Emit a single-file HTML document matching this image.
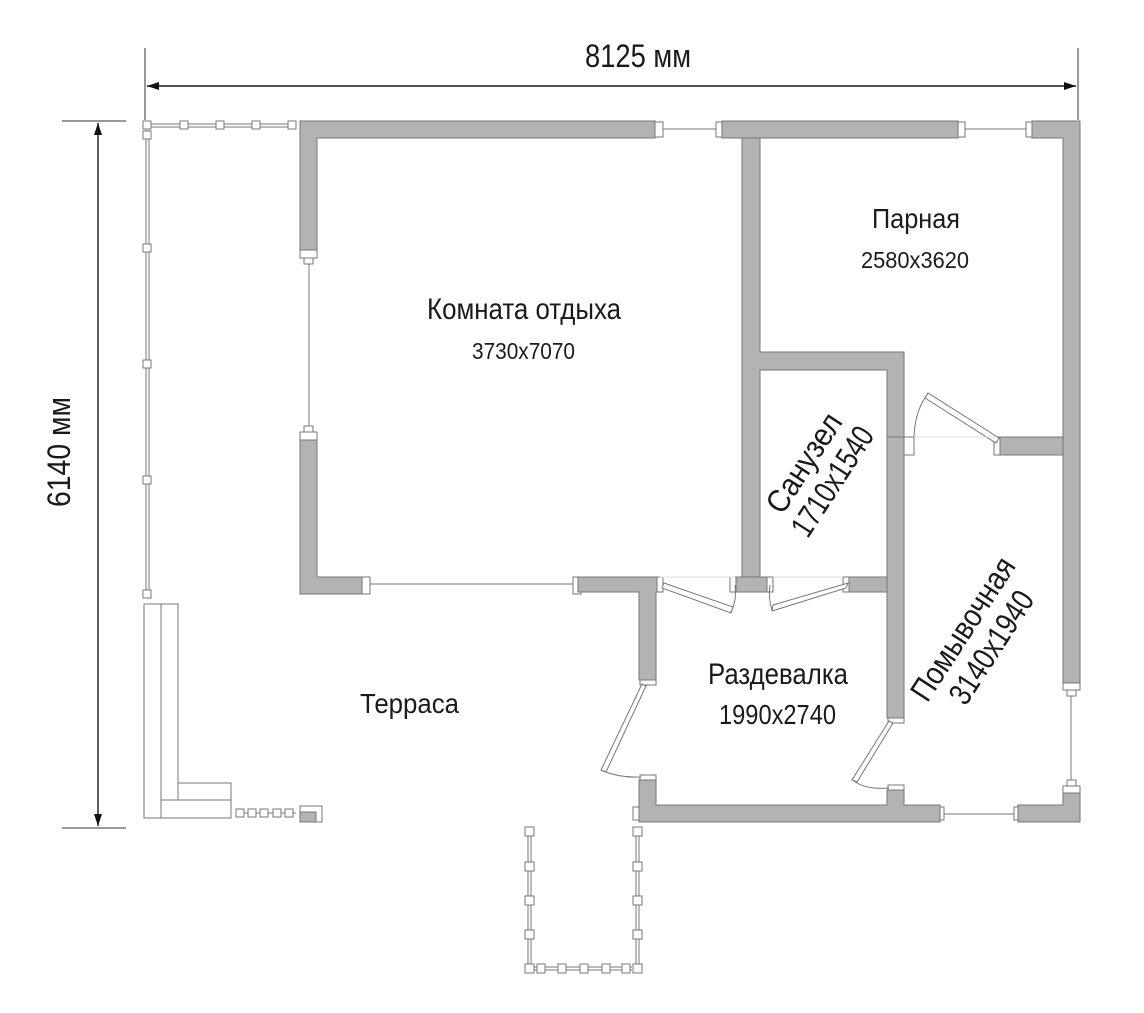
<!DOCTYPE html>
<html><head><meta charset="utf-8"><style>
html,body{margin:0;padding:0;background:#fff}
svg{display:block}
text{font-family:"Liberation Sans Narrow","Liberation Sans",sans-serif;fill:#1a1a1a}
.w{fill:#b3b3b3;stroke:#777;stroke-width:1}
.t{fill:#fff;stroke:#777;stroke-width:1}
.l{stroke:#777;stroke-width:1;fill:none}
</style></head><body>
<svg width="1144" height="1013" viewBox="0 0 1144 1013" xmlns="http://www.w3.org/2000/svg">
<defs>
<marker id="ar" markerWidth="12" markerHeight="8" refX="12" refY="4" orient="auto" markerUnits="userSpaceOnUse"><path d="M0,0 L12,4 L0,8 z" fill="#111"/></marker>
</defs>
<line x1="145" y1="48" x2="145" y2="120" stroke="#333"/>
<line x1="1078" y1="48" x2="1078" y2="120" stroke="#333"/>
<line x1="147" y1="86" x2="1076" y2="86" stroke="#111" stroke-width="1.2" marker-end="url(#ar)"/>
<line x1="1076" y1="86" x2="147" y2="86" stroke="#111" stroke-width="1.2" marker-end="url(#ar)"/>
<text x="585" y="67" font-size="32" textLength="106" lengthAdjust="spacingAndGlyphs">8125  мм</text>
<line x1="62" y1="121" x2="126" y2="121" stroke="#333"/>
<line x1="62" y1="828" x2="126" y2="828" stroke="#333"/>
<line x1="98" y1="123" x2="98" y2="826" stroke="#111" stroke-width="1.2" marker-end="url(#ar)"/>
<line x1="98" y1="826" x2="98" y2="123" stroke="#111" stroke-width="1.2" marker-end="url(#ar)"/>
<text x="-55" y="0" font-size="32" textLength="110" lengthAdjust="spacingAndGlyphs" transform="translate(70,452) rotate(-90)">6140 мм</text>

<g class="l">
<line x1="658" y1="129" x2="720" y2="129"/>
<line x1="962" y1="129" x2="1030" y2="129"/>
<line x1="309" y1="262" x2="309" y2="430"/>
<line x1="365" y1="584" x2="576" y2="584"/>
<line x1="1071" y1="692" x2="1071" y2="786"/>
<line x1="942" y1="814" x2="1016" y2="814"/>
</g>
<g class="t">
<rect x="655" y="122" width="8" height="15"/><rect x="716" y="122" width="8" height="15"/>
<rect x="957" y="122" width="8" height="15"/><rect x="1026" y="122" width="8" height="15"/>
<rect x="300" y="250" width="17" height="8"/><rect x="304" y="258" width="9" height="6"/>
<rect x="300" y="432" width="17" height="8"/><rect x="304" y="426" width="9" height="6"/>
<rect x="362" y="577" width="8" height="17"/><rect x="573" y="577" width="8" height="17"/>
<rect x="1063" y="683" width="17" height="7"/><rect x="1067" y="690" width="9" height="6"/>
<rect x="1063" y="786" width="17" height="7"/><rect x="1067" y="780" width="9" height="6"/>
<rect x="936" y="807" width="8" height="13"/><rect x="1014" y="807" width="8" height="13"/>
</g>

<g class="w">
<path d="M300,121 H655 V138 H317 V250 H300 Z"/>
<rect x="722" y="121" width="236" height="17"/>
<path d="M1032,121 H1080 V683 H1063 V138 H1032 Z"/>
<path d="M742,138 H760 V352 H904 V437 H887 V370 H760 V577 H742 Z"/>
<rect x="887" y="437" width="17" height="281"/>
<rect x="1000" y="437" width="63" height="18"/>
<path d="M300,440 H317 V577 H362 V594 H300 Z"/>
<path d="M578,577 H660 V592 H656 V680 H639 V592 H578 Z"/>
<rect x="735" y="577" width="32" height="15"/>
<rect x="848" y="577" width="39" height="15"/>
<path d="M639,780 H656 V805 H887 V790 H904 V805 H940 V822 H639 Z"/>
<path d="M1063,793 H1080 V822 H1018 V805 H1063 Z"/>
</g>
<g class="t">
<rect x="904" y="437" width="10" height="18"/><rect x="994" y="437" width="6" height="18"/>
<rect x="640" y="680" width="16" height="5"/><rect x="640" y="775" width="16" height="5"/>
<rect x="888" y="718" width="16" height="5"/><rect x="888" y="785" width="16" height="5"/>
<rect x="633" y="807" width="6" height="13"/>
<rect x="657" y="577" width="6" height="15"/><rect x="843" y="577" width="6" height="15"/>
<rect x="730" y="577" width="6" height="15"/><rect x="767" y="577" width="6" height="15"/>
</g>
<g class="l">
<polygon points="662,588 664,583 733,607 731,613" class="t"/>
<path d="M731,612 Q737,600 735,585"/>
<polygon points="846,588 848,583 773,605 772,611" class="t"/>
<path d="M772,610 Q768,598 770,585"/>
<polygon points="996,443 999,438 928,393 925,398" class="t"/>
<path d="M926,396 Q914,414 914,440"/>
<polygon points="642,684 646,686 606,772 601,770" class="t"/>
<path d="M603,771 Q620,778 641,777"/>
<polygon points="889,721 893,723 857,782 852,780" class="t"/>
<path d="M854,781 Q866,790 889,788"/>
</g>
<g stroke="#ddd" stroke-width="1">
<line x1="660" y1="577" x2="735" y2="577"/><line x1="773" y1="577" x2="843" y2="577"/>
<line x1="914" y1="437" x2="994" y2="437"/>
</g>

<g class="l">
<line x1="146" y1="130" x2="146" y2="596"/><line x1="149" y1="130" x2="149" y2="596"/>
<line x1="150" y1="124" x2="290" y2="124"/><line x1="150" y1="127" x2="290" y2="127"/>
<line x1="528" y1="834" x2="528" y2="966"/><line x1="531" y1="834" x2="531" y2="966"/>
<line x1="636" y1="834" x2="636" y2="966"/><line x1="639" y1="834" x2="639" y2="966"/>
<line x1="534" y1="967" x2="632" y2="967"/><line x1="534" y1="970" x2="632" y2="970"/>
<line x1="240" y1="813" x2="296" y2="813"/>
</g>
<g class="t">
<rect x="143" y="121" width="8" height="8"/><rect x="143" y="131" width="8" height="8"/>
<rect x="180" y="121" width="8" height="8"/><rect x="216" y="121" width="8" height="8"/>
<rect x="252" y="121" width="8" height="8"/><rect x="288" y="121" width="8" height="8"/>
<rect x="143" y="244" width="8" height="8"/><rect x="143" y="360" width="8" height="8"/>
<rect x="143" y="476" width="8" height="8"/><rect x="143" y="590" width="8" height="8"/>
<rect x="525" y="827" width="9" height="9"/><rect x="525" y="862" width="9" height="9"/>
<rect x="525" y="896" width="9" height="9"/><rect x="525" y="930" width="9" height="9"/>
<rect x="525" y="964" width="9" height="9"/>
<rect x="633" y="827" width="9" height="9"/><rect x="633" y="862" width="9" height="9"/>
<rect x="633" y="896" width="9" height="9"/><rect x="633" y="930" width="9" height="9"/>
<rect x="633" y="964" width="9" height="9"/>
<rect x="537" y="964" width="8" height="9"/><rect x="558" y="964" width="8" height="9"/>
<rect x="580" y="964" width="8" height="9"/><rect x="602" y="964" width="8" height="9"/>
<rect x="622" y="964" width="8" height="9"/>
<rect x="144" y="604" width="17" height="214"/>
<rect x="161" y="604" width="17" height="196"/>
<rect x="178" y="783" width="53" height="17"/>
<rect x="161" y="800" width="70" height="18"/>
<rect x="236" y="809" width="8" height="8"/><rect x="248" y="809" width="8" height="8"/>
<rect x="260" y="809" width="8" height="8"/><rect x="273" y="809" width="8" height="8"/>
<rect x="285" y="809" width="8" height="8"/>
<rect x="300" y="806" width="22" height="16"/>
</g>
<rect x="300" y="812" width="16" height="10" fill="#b3b3b3" stroke="#777"/>

<text x="427" y="319" font-size="30" textLength="194" lengthAdjust="spacingAndGlyphs">Комната отдыха</text>
<text x="472" y="359" font-size="23" textLength="103" lengthAdjust="spacingAndGlyphs">3730x7070</text>
<text x="872" y="228" font-size="28" textLength="88" lengthAdjust="spacingAndGlyphs">Парная</text>
<text x="861" y="268" font-size="23" textLength="108" lengthAdjust="spacingAndGlyphs">2580x3620</text>
<text x="360" y="713" font-size="28" textLength="99" lengthAdjust="spacingAndGlyphs">Терраса</text>
<text x="708" y="684" font-size="30" textLength="140" lengthAdjust="spacingAndGlyphs">Раздевалка</text>
<text x="719" y="724" font-size="28" textLength="117" lengthAdjust="spacingAndGlyphs">1990x2740</text>
<g transform="translate(818,472) rotate(-57)">
<text x="-56" y="-6" font-size="32" textLength="112" lengthAdjust="spacingAndGlyphs">Санузел</text>
<text x="-62" y="28" font-size="32" textLength="124" lengthAdjust="spacingAndGlyphs">1710x1540</text>
</g>
<g transform="translate(977,638) rotate(-57)">
<text x="-82" y="-6" font-size="32" textLength="164" lengthAdjust="spacingAndGlyphs">Помывочная</text>
<text x="-64" y="28" font-size="32" textLength="128" lengthAdjust="spacingAndGlyphs">3140x1940</text>
</g>
</svg>
</body></html>
